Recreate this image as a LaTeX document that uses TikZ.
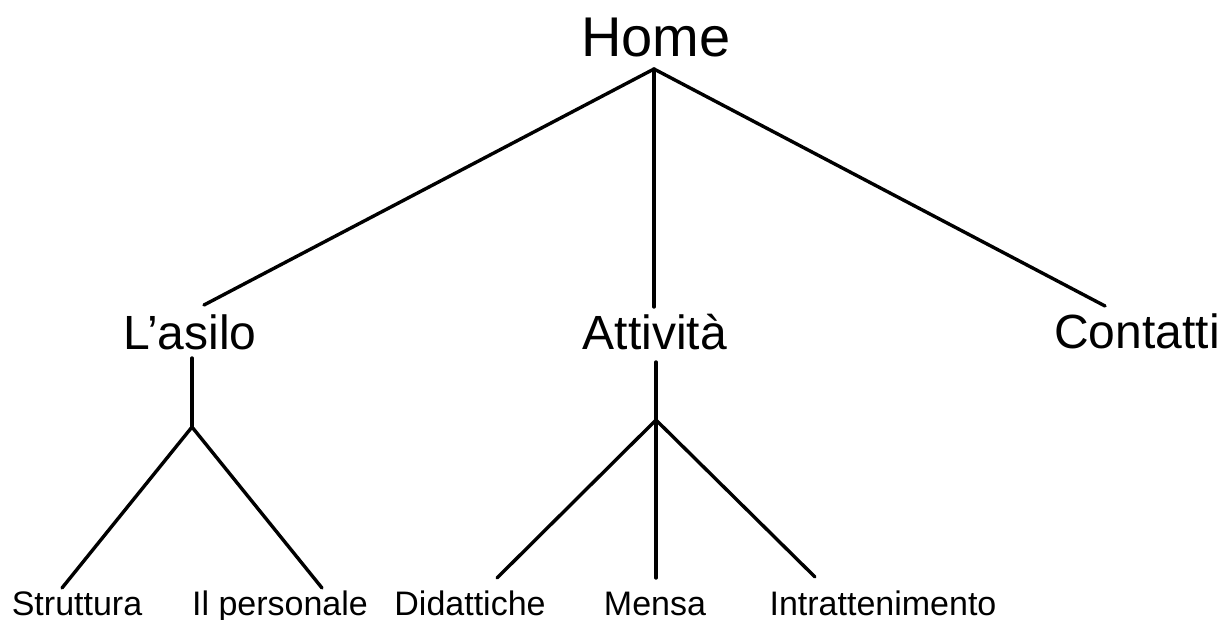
\documentclass[tikz,border=0pt]{standalone}
\usepackage{fontspec}
\setmainfont{Liberation Sans}
\begin{document}
\begin{tikzpicture}[x=1pt,y=-1pt,
  lbl/.style={anchor=base,inner sep=0pt},
  top/.style={lbl,font=\fontsize{56}{60}\selectfont},
  mid/.style={lbl,font=\fontsize{48}{52}\selectfont},
  leaf/.style={lbl,font=\fontsize{34}{38}\selectfont},
  link/.style={line width=3.4pt,line cap=round}]
\useasboundingbox (0,0) rectangle (1227,620);
\fill[white] (0,0) rectangle (1227,620);
% nodes
\node[top] (home) at (656,57) {Home};
\node[mid] (asilo) at (190,350) {L’asilo};
\node[mid] (attivita) at (655,350) {Attività};
\node[mid] (contatti) at (1137,349) {Contatti};
\node[leaf] (struttura) at (77,615) {Struttura};
\node[leaf] (personale) at (280,615) {Il personale};
\node[leaf] (didattiche) at (470,615) {Didattiche};
\node[leaf] (mensa) at (655,615) {Mensa};
\node[leaf] (intratt) at (883,615) {Intrattenimento};
% connector points
\coordinate (hv) at (654,69);
\coordinate (asiloIn) at (204,305);
\coordinate (attIn) at (654,307);
\coordinate (conIn) at (1105,306);
\coordinate (asiloOut) at (192,358);
\coordinate (asiloV) at (192,427);
\coordinate (strIn) at (62,588);
\coordinate (perIn) at (322,588);
\coordinate (attOut) at (656,362);
\coordinate (attV) at (656,420);
\coordinate (didIn) at (497,578);
\coordinate (menIn) at (656,578);
\coordinate (intIn) at (815,577);
% connectors
\draw[link] (hv) -- (asiloIn);
\draw[link] (hv) -- (attIn);
\draw[link] (hv) -- (conIn);
\draw[link] (asiloOut) -- (asiloV);
\draw[link] (asiloV) -- (strIn);
\draw[link] (asiloV) -- (perIn);
\draw[link] (attOut) -- (attV);
\draw[link] (attV) -- (didIn);
\draw[link] (attV) -- (menIn);
\draw[link] (attV) -- (intIn);
\end{tikzpicture}
\end{document}
